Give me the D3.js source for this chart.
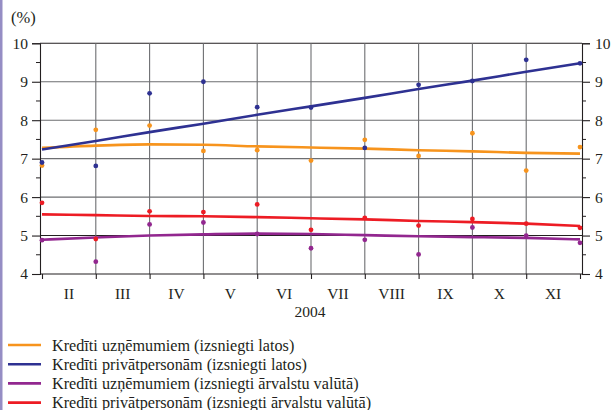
<!DOCTYPE html>
<html>
<head>
<meta charset="utf-8">
<script src="https://d3js.org/d3.v7.min.js"></script>
<style>
  body { margin: 0; background: #fff; }
</style>
</head>
<body>
<svg id="chart" width="612" height="410" font-family="Liberation Serif" font-size="15"></svg>
<script>

//months on the axis (labels sit between the data points)
var monthLabels = ["II", "III", "IV", "V", "VI", "VII", "VIII", "IX", "X", "XI"];
var yearLabel = "2004";
var yTicks = [4, 5, 6, 7, 8, 9, 10];

var seriesNames = [
  "Kredīti uzņēmumiem (izsniegti latos)",
  "Kredīti privātpersonām (izsniegti latos)",
  "Kredīti uzņēmumiem (izsniegti ārvalstu valūtā)",
  "Kredīti privātpersonām (izsniegti ārvalstu valūtā)"
];
var seriesColors = ["#f7941d", "#2e3192", "#92278f", "#ed1c24"];

//monthly rates (%)
var uznLatos = [6.82, 7.75, 7.86, 7.2, 7.22, 6.95, 7.49, 7.07, 7.66, 6.69, 7.3];
var privLatos = [6.9, 6.81, 8.7, 9.0, 8.34, 8.33, 7.28, 8.92, 9.02, 9.57, 9.48];
var uznValuta = [4.88, 4.32, 5.29, 5.34, 5.04, 4.67, 4.89, 4.51, 5.21, 5.0, 4.81];
var privValuta = [5.85, 4.91, 5.63, 5.61, 5.81, 5.15, 5.46, 5.26, 5.43, 5.31, 5.2];

//trend lines
var uznLatosTrend = [7.28, 7.34, 7.37, 7.36, 7.32, 7.29, 7.26, 7.22, 7.19, 7.15, 7.13];
var privLatosTrend = [7.24, 7.46, 7.69, 7.91, 8.14, 8.36, 8.58, 8.81, 9.03, 9.26, 9.48];
var uznValutaTrend = [4.89, 4.95, 5.0, 5.03, 5.05, 5.04, 5.01, 4.98, 4.96, 4.94, 4.9];
var privValutaTrend = [5.55, 5.53, 5.51, 5.5, 5.48, 5.45, 5.42, 5.38, 5.35, 5.31, 5.25];

var W = 612, H = 410;
var axL = 40, axR = 582, axTop = 43.3, axBot = 274;
var ink = "#231f20";

var svg = d3.select("#chart");

var xScale = d3.scaleLinear().domain([0, 10]).range([42, 580]);
var yScale = d3.scaleLinear().domain([4, 10]).range([axBot, axTop]);

function txt(sel, size){
  sel.attr("font-family", "Liberation Serif")
     .attr("font-size", size || 15.5)
     .attr("fill", ink);
}

//lavender bar on the left edge
svg.append("rect")
  .attr("x", 0).attr("y", 0)
  .attr("width", 2.5).attr("height", H)
  .attr("fill", "#958dc4");

//grid
var grid = svg.append("g");
grid.selectAll(".hgrid")
  .data(yTicks.filter(function(d){ return d > 4; }))
  .enter().append("line")
  .attr("x1", axL).attr("x2", axR)
  .attr("y1", function(d){ return yScale(d); })
  .attr("y2", function(d){ return yScale(d); })
  .attr("stroke", function(d){ return (d == 5 || d == 10) ? ink : "#6d6e71"; })
  .attr("stroke-width", 1.1);

grid.selectAll(".vgrid")
  .data(d3.range(1, 10))
  .enter().append("line")
  .attr("x1", function(d){ return xScale(d); })
  .attr("x2", function(d){ return xScale(d); })
  .attr("y1", axTop).attr("y2", axBot)
  .attr("stroke", "#6d6e71")
  .attr("stroke-width", 1.1);

//left axis
var leftAxis = d3.axisLeft(yScale)
  .tickValues(yTicks)
  .tickFormat(d3.format("d"))
  .tickSize(8)
  .tickPadding(4);
var gl = svg.append("g")
  .attr("transform", "translate(" + axL + ",0)")
  .call(leftAxis);

//right axis
var rightAxis = d3.axisRight(yScale)
  .tickValues(yTicks)
  .tickFormat(d3.format("d"))
  .tickSize(8)
  .tickPadding(5);
var gr = svg.append("g")
  .attr("transform", "translate(" + axR + ",0)")
  .call(rightAxis);

[gl, gr].forEach(function(g){
  g.attr("font-family", null).attr("font-size", null);
  g.select(".domain").attr("stroke", ink).attr("stroke-width", 1.1);
  g.selectAll(".tick line").attr("stroke", ink).attr("stroke-width", 1.1);
  g.selectAll(".tick text").call(txt);
});

//half-unit minor ticks
var halfTicks = d3.range(4.5, 10, 1);
gl.selectAll(".minor").data(halfTicks).enter().append("line")
  .attr("x1", -4).attr("x2", 0)
  .attr("y1", function(d){ return yScale(d); })
  .attr("y2", function(d){ return yScale(d); })
  .attr("stroke", ink);
gr.selectAll(".minor").data(halfTicks).enter().append("line")
  .attr("x1", 0).attr("x2", 4)
  .attr("y1", function(d){ return yScale(d); })
  .attr("y2", function(d){ return yScale(d); })
  .attr("stroke", ink);

//bottom axis
var xAxis = d3.axisBottom(xScale)
  .tickValues(d3.range(0, 11))
  .tickSize(5)
  .tickFormat("");
var gx = svg.append("g")
  .attr("transform", "translate(0," + axBot + ")")
  .call(xAxis);
gx.select(".domain").attr("d", "M" + axL + ",0H" + axR).attr("stroke", ink).attr("stroke-width", 1.1);
gx.selectAll(".tick line").attr("stroke", ink).attr("stroke-width", 1.1);

svg.selectAll(".month")
  .data(monthLabels)
  .enter().append("text")
  .attr("x", function(d, i){ return (xScale(i) + xScale(i + 1)) / 2; })
  .attr("y", 299)
  .attr("text-anchor", "middle")
  .call(txt)
  .text(function(d){ return d; });

svg.append("text")
  .attr("x", 310).attr("y", 317)
  .attr("text-anchor", "middle")
  .call(txt)
  .text(yearLabel);

svg.append("text")
  .attr("x", 11).attr("y", 23)
  .call(txt, 16.5)
  .text("(%)");

//trend lines then points
var values = [uznLatos, privLatos, uznValuta, privValuta];
var trends = [uznLatosTrend, privLatosTrend, uznValutaTrend, privValutaTrend];

var line = d3.line()
  .x(function(d, i){ return xScale(i); })
  .y(function(d){ return yScale(d); })
  .curve(d3.curveMonotoneX);

var drawOrder = [0, 1, 3, 2];
drawOrder.forEach(function(s){
  svg.append("path")
    .attr("d", line(trends[s]))
    .attr("fill", "none")
    .attr("stroke", seriesColors[s])
    .attr("stroke-width", 2.6);
});

drawOrder.forEach(function(s){
  svg.selectAll(".dot" + s)
    .data(values[s])
    .enter().append("circle")
    .attr("cx", function(d, i){ return xScale(i); })
    .attr("cy", function(d){ return yScale(d); })
    .attr("r", 2.4)
    .attr("fill", seriesColors[s]);
});

//legend
var legend = svg.selectAll(".legend")
  .data(seriesNames)
  .enter().append("g")
  .attr("transform", function(d, i){ return "translate(0," + (345 + i * 19.2) + ")"; });

legend.append("line")
  .attr("x1", 8).attr("x2", 41)
  .attr("y1", 0).attr("y2", 0)
  .attr("stroke", function(d, i){ return seriesColors[i]; })
  .attr("stroke-width", 2.6);

legend.append("text")
  .attr("x", 52).attr("y", 5.5)
  .call(txt, 16.2)
  .text(function(d){ return d; });

</script>
</body>
</html>
